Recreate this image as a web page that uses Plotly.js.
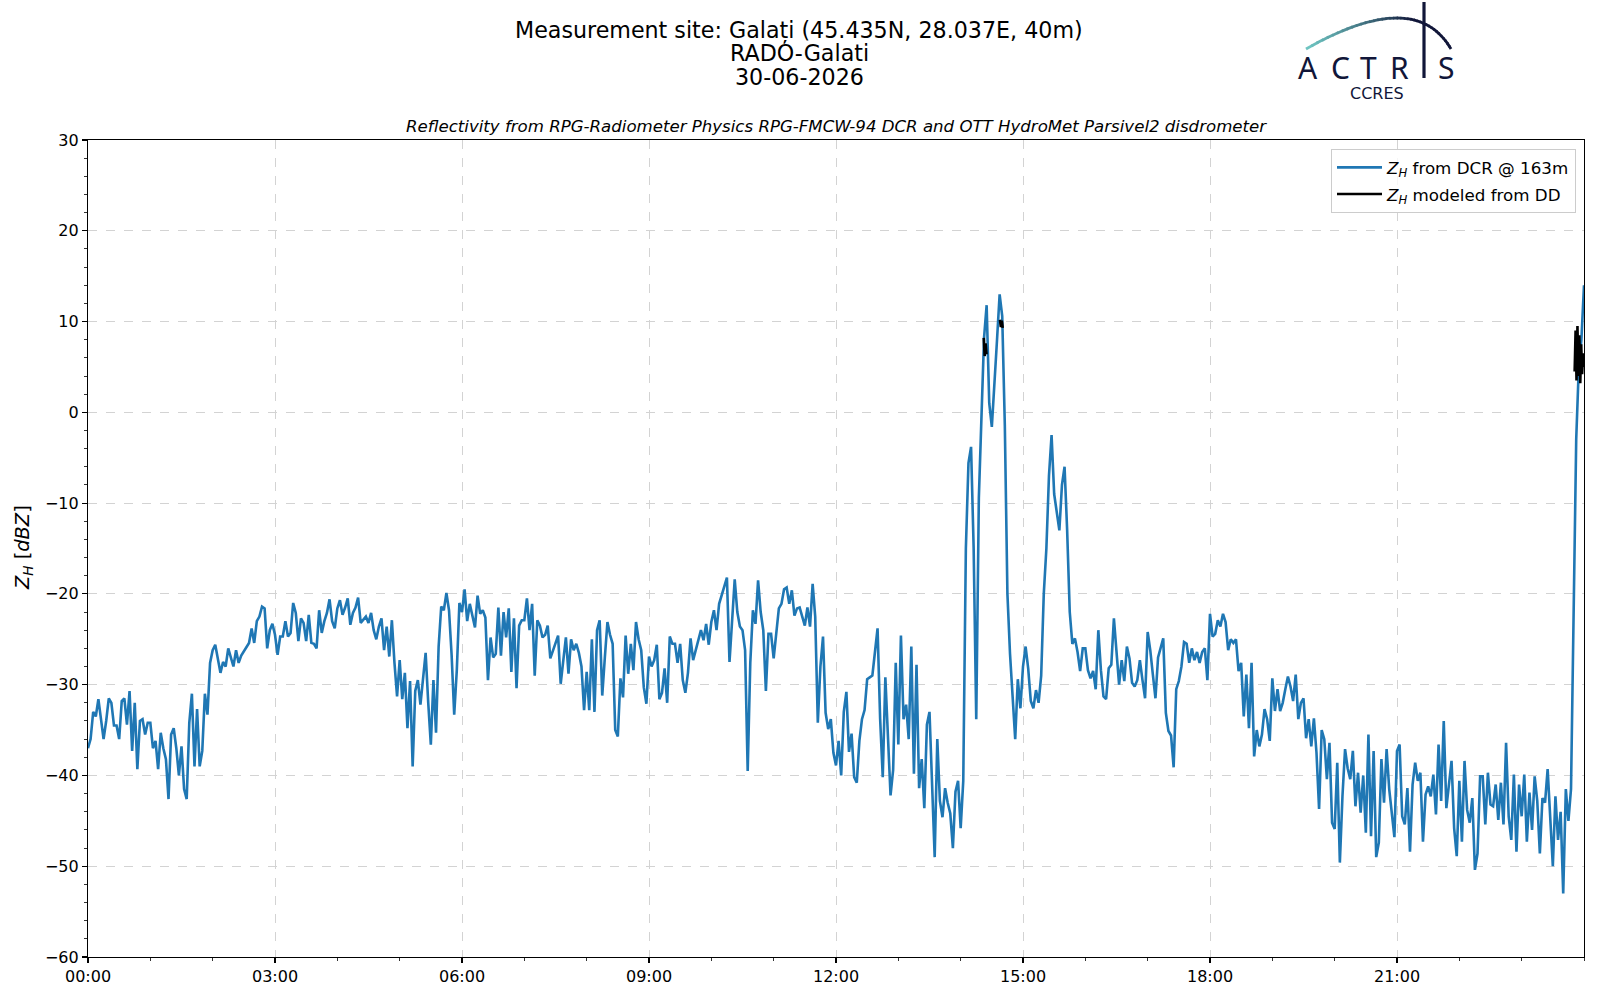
<!DOCTYPE html>
<html>
<head>
<meta charset="utf-8">
<script src="https://cdn.plot.ly/plotly-3.0.1.min.js"></script>
<style>body{margin:0;background:#fff}</style>
</head>
<body>
<div id="wykres" style="width:1600px;height:1000px"></div>
<script>
// Z_H z radaru DCR, po jednej tablicy na godzine (24 probki co 2.5 min)
var h00 = [-37, -36, -33, -33.5, -31.6, -34, -36, -34, -31.5, -32, -34.5, -34.5, -36, -31.8, -31.5, -34.4, -30.7, -37.3, -32, -39.3, -34, -33.8, -35.5, -34.2]
var h01 = [-34.2, -37, -36.2, -39.3, -35.3, -37, -38.2, -42.6, -35.5, -34.8, -37, -40, -36.8, -41.5, -42.6, -34.2, -31, -39, -32.7, -39, -37.3, -31, -33.3, -27.6]
var h02 = [-26.2, -25.6, -27, -28.7, -27.5, -28, -26, -27, -28, -26.2, -27.6, -26.8, -26.3, -25.8, -25.4, -23.8, -25.4, -23, -22.5, -21.4, -21.6, -26, -24, -23.3]
var h03 = [-24.5, -26.7, -24.7, -24.7, -23, -24.7, -24.3, -21, -22.1, -25.2, -22.7, -23.2, -25.2, -22.3, -25.4, -25.5, -26, -21.8, -24.3, -23, -22.1, -20.6, -23, -23.8]
var h04 = [-21.6, -20.7, -22.3, -21.5, -20.5, -23.4, -22.1, -21.5, -20.4, -23.2, -22.8, -22.5, -23.2, -22.1, -24, -25, -23.6, -22.7, -26.2, -23.6, -26.9, -22.9, -27.6, -31.3]
var h05 = [-27.3, -31.6, -28.7, -34.8, -29.6, -39, -30.7, -29.5, -32.2, -29.3, -26.5, -32, -36.6, -29.5, -35.3, -25.8, -21.4, -21.8, -19.9, -21.8, -26.7, -33.3, -28.4, -21]
var h06 = [-22, -19.5, -23, -21.1, -22.4, -23.7, -20.2, -22.2, -21.8, -22.6, -29.5, -24.8, -27, -26.6, -21.5, -26.8, -22, -24.8, -21.6, -28.6, -22.7, -30.4, -23.5, -22.9]
var h07 = [-22.9, -20.5, -24, -21.1, -29, -22.9, -23.5, -24.8, -24.5, -23.5, -27.1, -26.2, -25.5, -24.6, -29.9, -27, -24.8, -28.8, -25, -26.2, -25.5, -26.5, -28, -32.8]
var h08 = [-28.6, -32.8, -25, -33, -24, -22.9, -31.2, -27, -23.1, -24.5, -25.5, -35, -35.7, -29.3, -31.4, -24.6, -28.8, -25.5, -28.4, -23.1, -25, -26.2, -30.3, -32.1]
var h09 = [-26.9, -28, -27.3, -25.6, -31.6, -30.9, -28.2, -32, -24.7, -25.5, -25.5, -27.6, -25.5, -29.5, -30.9, -28.7, -24.9, -27.3, -26.2, -25.1, -24, -25.1, -23.3, -25.6]
var h10 = [-23.1, -21.8, -24, -21.1, -20.2, -19.3, -18.2, -27.5, -22.4, -18.4, -22, -23.6, -24, -26.2, -39.5, -27.6, -21.8, -23.3, -18.5, -22, -24, -30.7, -24.4, -24.4]
var h11 = [-27.1, -24, -21.6, -21.1, -19.5, -19.3, -21.1, -19.6, -22.4, -21.6, -21.5, -22.5, -23.5, -21.5, -23.6, -18.9, -22.5, -34.2, -28, -24.7, -33.1, -34.9, -33.8, -37.5]
var h12 = [-38.9, -36.2, -40, -33, -30.8, -37.4, -35.4, -40.2, -40.8, -36.2, -33.8, -32.8, -29.4, -29.2, -29, -26.4, -23.8, -33.8, -40.2, -29.2, -35.4, -42.2, -39.4, -27.6]
var h13 = [-36.6, -24.6, -33.8, -32.2, -36, -25.8, -39.8, -27.8, -41.4, -38.2, -43.6, -34.4, -33, -40.6, -49, -36, -42.8, -44.6, -41.4, -43, -44.2, -48, -41.8, -40.6]
var h14 = [-45.8, -40.6, -15, -5.6, -3.8, -15, -33.8, -9.4, 0.2, 8.2, 11.8, 1, -1.6, 2.6, 8, 13, 10.6, -1.4, -20, -26.6, -31.4, -36, -29.4, -32.6]
var h15 = [-28, -25.8, -28.2, -31.8, -32.6, -30.6, -32, -29, -20, -15, -7, -2.5, -9, -11, -13, -8, -6, -13, -22, -25.5, -24.9, -26.4, -28.5, -26]
var h16 = [-26, -28.4, -29.3, -28.5, -30.5, -24, -28.4, -31.3, -31.6, -28.2, -27.8, -22.7, -26.2, -30, -27.3, -29.6, -25.8, -27.1, -29.8, -30.2, -29.5, -27.3, -29.5, -31.5]
var h17 = [-24.2, -26.2, -28.9, -31.5, -27, -25.8, -24.9, -33.1, -35.1, -35.6, -39.1, -30.5, -29.6, -28, -25.3, -25.5, -27.6, -26, -27.3, -26.4, -27.6, -26.4, -26, -29.5]
var h18 = [-22.2, -24.7, -24.4, -22.9, -23.6, -22.2, -23.1, -26.2, -25, -25.4, -25, -28.5, -27.6, -33.5, -28.9, -34.8, -27.6, -37.9, -35, -36.8, -35.5, -32.7, -33.8, -36.2]
var h19 = [-29.3, -32.9, -30.5, -32.9, -32, -30.5, -29.1, -30.2, -31.8, -28.9, -33.8, -32, -31.5, -35.9, -33.8, -36.8, -33.7, -37.5, -43.7, -35, -36, -40.4, -36.4, -45.2]
var h20 = [-45.9, -38.6, -49.6, -42.3, -37.1, -39.2, -40.4, -37.3, -43.4, -39.7, -44.1, -40, -46.3, -35.5, -46.7, -37.3, -49, -47.4, -38.2, -43, -37.1, -41.5, -44.5, -46.8]
var h21 = [-37.3, -36.6, -44.5, -45.4, -41.4, -48.4, -41, -38.6, -40.6, -39.7, -47.3, -42.1, -41.2, -42.3, -39.9, -44.3, -36.6, -42.8, -34, -43.6, -41, -38.4, -45.8, -48.9]
var h22 = [-40.6, -47.3, -38.4, -43.8, -45.2, -42.5, -50.4, -48.6, -40.1, -40.1, -45.4, -39.7, -43.2, -43.4, -41, -44.9, -40.8, -45.4, -36.4, -44.5, -47.1, -39.9, -48.4, -41]
var h23 = [-44.5, -39.9, -47.3, -41.9, -46, -40.1, -42.8, -48.6, -42.5, -43, -39.3, -44.7, -50, -42.3, -47.1, -44, -53, -41.5, -45, -41.5, -20, -3, 5, 8]
var zhEnd = 14 // 24:00

// Z_H modelowane z disdrometru (null = brak opadu)
var ddTime = [14.37, 14.385, 14.40, 14.415, 14.5, 14.63, 14.645, 14.66, 14.675, 20,
              23.85, 23.865, 23.88, 23.895, 23.91, 23.925, 23.94, 23.955, 23.97, 23.985, 24.0]
var ddZh = [8.2, 6.2, 7.6, 6.4, null, 10.2, 9.4, 10.1, 9.3, null,
            4.5, 9, 3.5, 9.5, 4, 8.5, 3.2, 7.5, 4.2, 6.5, 5]

var tickHours = [0, 3, 6, 9, 12, 15, 18, 21]
var tickLabels = ['00:00', '03:00', '06:00', '09:00', '12:00', '15:00', '18:00', '21:00']

var godziny = [h00, h01, h02, h03, h04, h05, h06, h07, h08, h09, h10, h11,
               h12, h13, h14, h15, h16, h17, h18, h19, h20, h21, h22, h23]
var czas = []
var zh = []
for (var i = 0; i < godziny.length; i++)
{
	for (var k = 0; k < godziny[i].length; k++)
	{
		czas.push(i + k / godziny[i].length)
		zh.push(godziny[i][k])
	}
}
czas.push(24)
zh.push(zhEnd)

// piksele -> wspolrzedne papieru (obszar wykresu 88..1584 x 140..957)
function px(x) { return (x - 88) / 1496 }
function py(y) { return (957 - y) / 817 }

var font = 'DejaVu Sans'
var granat = '#111639'

var dcr = {
	type: 'scatter',
	mode: 'lines',
	name: '<i>Z</i><sub><i>H</i></sub> from DCR @ 163m',
	legendgroup: 'a',
	x: czas,
	y: zh,
	line: {width: 2.6, color: '#1f77b4'}
}
var dd = {
	type: 'scatter',
	mode: 'lines',
	name: '<i>Z</i><sub><i>H</i></sub> modeled from DD',
	legendgroup: 'b',
	x: ddTime,
	y: ddZh,
	connectgaps: false,
	line: {width: 2.6, color: 'black'}
}

var anot = [
	{text: 'Measurement site: Galați (45.435N, 28.037E, 40m)', x: px(799), y: py(30)},
	{text: 'RADO-Galati', x: px(799), y: py(53)},
	{text: '30-06-2026', x: px(799), y: py(76.5)}
].map(function (a) {
	return {text: a.text, x: a.x, y: a.y, xref: 'paper', yref: 'paper', xanchor: 'center', yanchor: 'middle',
		showarrow: false, font: {family: font, size: 22.2, color: 'black'}}
})

anot.push({text: '<i>Reflectivity from RPG-Radiometer Physics RPG-FMCW-94 DCR and OTT HydroMet Parsivel2 disdrometer</i>',
	x: 0.5, y: py(126), xref: 'paper', yref: 'paper', xanchor: 'center', yanchor: 'middle',
	showarrow: false, font: {family: font, size: 16.6, color: 'black'}})

anot.push({text: '<i>Z</i><sub><i>H</i></sub> [<i>dBZ</i>]', textangle: -90,
	x: px(23), y: py(548), xref: 'paper', yref: 'paper', xanchor: 'center', yanchor: 'middle',
	showarrow: false, font: {family: font, size: 19.4, color: 'black'}})

// logo ACTRIS
var litery = [['A', 1307.5], ['C', 1340], ['T', 1368], ['R', 1399], ['S', 1446]]
for (var j = 0; j < litery.length; j++)
{
	anot.push({text: litery[j][0], x: px(litery[j][1]), y: py(67), xref: 'paper', yref: 'paper',
		xanchor: 'center', yanchor: 'middle', showarrow: false,
		font: {family: 'Noto Sans', size: 30, color: granat}})
}
anot.push({text: 'CCRES', x: px(1377), y: py(93), xref: 'paper', yref: 'paper',
	xanchor: 'center', yanchor: 'middle', showarrow: false,
	font: {family: font, size: 16, color: granat}})

var ksztalty = []
var n = 40
var p0 = [1306, 49], p1 = [1415, -13], p2 = [1451, 49]
function bez(t, a) { return (1 - t) * (1 - t) * p0[a] + 2 * t * (1 - t) * p1[a] + t * t * p2[a] }
function mix(t) {
	var c0 = [110, 196, 193], c1 = [17, 22, 57]
	var s = Math.min(1, t / 0.6)
	return 'rgb(' + [0, 1, 2].map(function (m) { return Math.round(c0[m] + (c1[m] - c0[m]) * s) }).join(',') + ')'
}
for (var s = 0; s < n; s++)
{
	var t0 = s / n, t1 = (s + 1.3) / n
	if (t1 > 1) t1 = 1
	ksztalty.push({type: 'line', xref: 'paper', yref: 'paper',
		x0: px(bez(t0, 0)), y0: py(bez(t0, 1)), x1: px(bez(t1, 0)), y1: py(bez(t1, 1)),
		line: {color: mix(t0), width: 2.8}})
}
ksztalty.push({type: 'line', xref: 'paper', yref: 'paper', x0: px(1424), y0: py(2), x1: px(1424), y1: py(78),
	line: {color: granat, width: 3.2}})

var os = {
	ticks: 'outside', ticklen: 5, tickwidth: 1.1, tickcolor: 'black',
	showline: true, linecolor: 'black', linewidth: 1.1, mirror: true,
	showgrid: true, gridcolor: '#d3d3d3', griddash: 'dash', gridwidth: 1,
	zeroline: false, tickfont: {family: font, size: 16, color: 'black'}
}

var layout = {
	width: 1600, height: 1000,
	margin: {l: 88, r: 16, t: 140, b: 43},
	paper_bgcolor: 'white', plot_bgcolor: 'white',
	font: {family: font, size: 16, color: 'black'},
	showlegend: true,
	legend: {x: px(1576), xanchor: 'right', y: py(149), yanchor: 'top',
		traceorder: 'grouped', tracegroupgap: 2, itemwidth: 45,
		bgcolor: 'rgba(255,255,255,0.8)', bordercolor: '#cccccc', borderwidth: 1,
		font: {family: font, size: 16.7, color: 'black'}},
	xaxis: Object.assign({}, os, {range: [0, 24], tickmode: 'array', tickvals: tickHours, ticktext: tickLabels,
		minor: {tickmode: 'linear', tick0: 0, dtick: 1, ticks: 'outside', ticklen: 3, tickwidth: 0.8, tickcolor: 'black', showgrid: false}}),
	yaxis: Object.assign({}, os, {range: [-60, 30], tickmode: 'linear', tick0: -60, dtick: 10,
		minor: {tickmode: 'linear', tick0: -60, dtick: 2, ticks: 'outside', ticklen: 3, tickwidth: 0.8, tickcolor: 'black', showgrid: false}}),
	annotations: anot,
	shapes: ksztalty
}

Plotly.newPlot('wykres', [dcr, dd], layout, {displayModeBar: false, staticPlot: true})
</script>
</body>
</html>
